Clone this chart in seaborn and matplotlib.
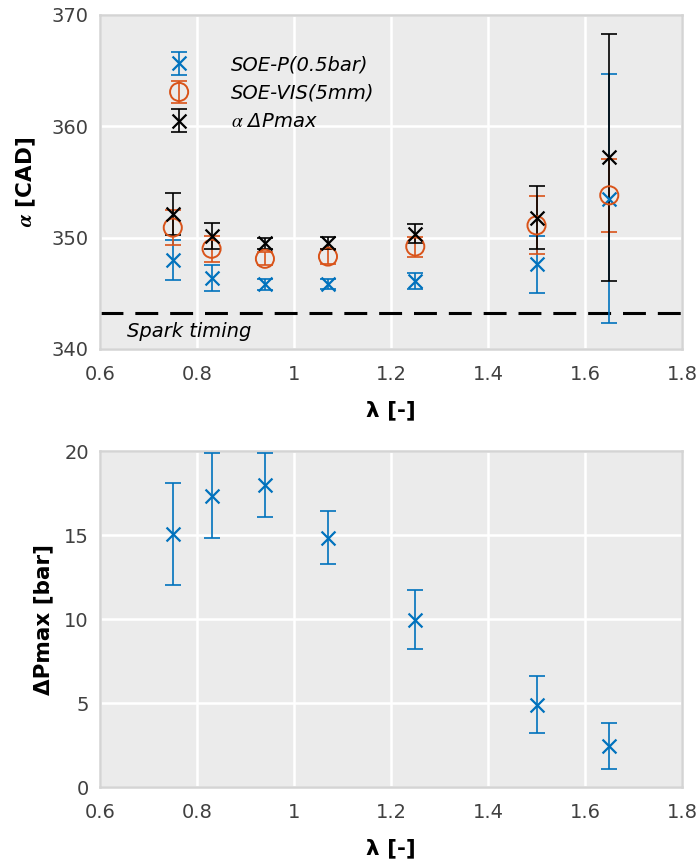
import matplotlib
matplotlib.use("Agg")
import matplotlib.pyplot as plt
from matplotlib.container import ErrorbarContainer
from matplotlib.legend_handler import HandlerTuple, HandlerErrorbar
import seaborn as sns

# Excess air ratio for each operating point
lam = [0.75, 0.83, 0.94, 1.07, 1.25, 1.50, 1.65]

# Start of ignition from pressure trace (0.5 bar threshold) [CAD]
soe_p = [348.0, 346.4, 345.8, 345.8, 346.1, 347.6, 353.5]
soe_p_err = [1.8, 1.15, 0.5, 0.45, 0.7, 2.55, 11.2]

# Start of ignition from visualisation (5 mm flame radius) [CAD]
soe_vis = [350.9, 349.0, 348.1, 348.3, 349.2, 351.1, 353.8]
soe_vis_err = [1.6, 1.15, 0.6, 0.65, 0.9, 2.6, 3.3]

# Crank angle of peak pressure rise [CAD]
alpha_dpmax = [352.1, 350.15, 349.5, 349.55, 350.35, 351.8, 357.2]
alpha_dpmax_err = [1.9, 1.15, 0.5, 0.55, 0.85, 2.8, 11.1]

# Peak pressure rise [bar]
dpmax = [15.05, 17.35, 18.0, 14.85, 9.95, 4.9, 2.45]
dpmax_err = [3.05, 2.55, 1.9, 1.55, 1.75, 1.7, 1.35]

spark_timing = 343.2

series_labels = ["SOE-P(0.5bar)", "SOE-VIS(5mm)", r"$\alpha$ ΔPmax"]
x_ticks = [0.6, 0.8, 1.0, 1.2, 1.4, 1.6, 1.8]
x_ticklabels = ["0.6", "0.8", "1", "1.2", "1.4", "1.6", "1.8"]

BLUE = "#0072BD"
ORANGE = "#D95319"
BLACK = "#000000"

sns.set_theme(style="darkgrid", rc={
    "axes.facecolor": "#EBEBEB",
    "axes.edgecolor": "#D4D4D4",
    "axes.linewidth": 1.8,
    "grid.color": "white",
    "grid.linewidth": 1.8,
    "xtick.color": "#404040",
    "ytick.color": "#404040",
    "xtick.labelcolor": "#404040",
    "ytick.labelcolor": "#404040",
    "axes.labelcolor": "black",
    "text.color": "black",
})
plt.rcParams["font.family"] = ["DejaVu Sans"]
plt.rcParams["mathtext.fontset"] = "stix"

TICK_FS = 14
LABEL_FS = 15.5
TEXT_FS = 14

fig = plt.figure(figsize=(7.0, 8.64), dpi=100)
ax1 = fig.add_axes([0.1429, 0.5961, 0.8314, 0.3866])
ax2 = fig.add_axes([0.1429, 0.0891, 0.8314, 0.3889])

err_kw = dict(fmt="none", elinewidth=1.2, capsize=6, capthick=1.2)

# --- top panel: ignition timing ---
eb_p = ax1.errorbar(lam, soe_p, yerr=soe_p_err, ecolor=BLUE, zorder=3, **err_kw)
sns.scatterplot(x=lam, y=soe_p, marker="x", color=BLUE, s=100,
                linewidth=1.6, ax=ax1, zorder=4, legend=False)
sc_p = ax1.collections[-1]

eb_v = ax1.errorbar(lam, soe_vis, yerr=soe_vis_err, ecolor=ORANGE, zorder=3, **err_kw)
sns.scatterplot(x=lam, y=soe_vis, marker="o", facecolor="none", edgecolor=ORANGE,
                s=170, linewidth=1.4, ax=ax1, zorder=4, legend=False)
sc_v = ax1.collections[-1]

eb_a = ax1.errorbar(lam, alpha_dpmax, yerr=alpha_dpmax_err, ecolor=BLACK, zorder=3, **err_kw)
sns.scatterplot(x=lam, y=alpha_dpmax, marker="x", color=BLACK, s=100,
                linewidth=1.6, ax=ax1, zorder=4, legend=False)
sc_a = ax1.collections[-1]

ax1.axhline(spark_timing, color="black", lw=2.2, ls=(0, (7.5, 3.9)), zorder=2)
ax1.text(0.655, 341.6, "Spark timing", style="italic", fontsize=TEXT_FS,
         va="center", ha="left", color="black")

ax1.set_xlim(0.6, 1.8)
ax1.set_ylim(340, 370)
ax1.set_yticks([340, 350, 360, 370])
ax1.set_xticks(x_ticks)
ax1.set_xticklabels(x_ticklabels)
ax1.set_xlabel("λ [-]", fontsize=LABEL_FS, fontweight="bold", labelpad=12)
ax1.set_ylabel(r"$\boldsymbol{\alpha}$ [CAD]", fontsize=LABEL_FS, fontweight="bold", labelpad=10)

ax1.legend(
    [(eb_p, sc_p), (eb_v, sc_v), (eb_a, sc_a)], series_labels,
    handler_map={tuple: HandlerTuple(ndivide=1, pad=0),
                 ErrorbarContainer: HandlerErrorbar(xerr_size=0.5, yerr_size=0.58)},
    loc="upper left", bbox_to_anchor=(0.12, 0.88), frameon=False,
    prop={"style": "italic", "size": TEXT_FS}, handlelength=0.95,
    handletextpad=2.2, labelspacing=0.5, borderpad=0, borderaxespad=0,
    scatterpoints=1, scatteryoffsets=[0.5],
)

# --- bottom panel: peak pressure rise ---
ax2.errorbar(lam, dpmax, yerr=dpmax_err, ecolor=BLUE, zorder=3, **err_kw)
sns.scatterplot(x=lam, y=dpmax, marker="x", color=BLUE, s=100,
                linewidth=1.6, ax=ax2, zorder=4, legend=False)

ax2.set_xlim(0.6, 1.8)
ax2.set_ylim(0, 20)
ax2.set_yticks([0, 5, 10, 15, 20])
ax2.set_xticks(x_ticks)
ax2.set_xticklabels(x_ticklabels)
ax2.set_xlabel("λ [-]", fontsize=LABEL_FS, fontweight="bold", labelpad=12)
ax2.set_ylabel("ΔPmax [bar]", fontsize=LABEL_FS, fontweight="bold", labelpad=8)

for ax in (ax1, ax2):
    ax.tick_params(axis="both", length=0, labelsize=TICK_FS)
    ax.tick_params(axis="x", pad=11.5)
    ax.tick_params(axis="y", pad=8)
    for sp in ax.spines.values():
        sp.set_visible(True)
        sp.set_color("#D4D4D4")
        sp.set_linewidth(1.8)

fig.savefig("out.png", dpi=100)
